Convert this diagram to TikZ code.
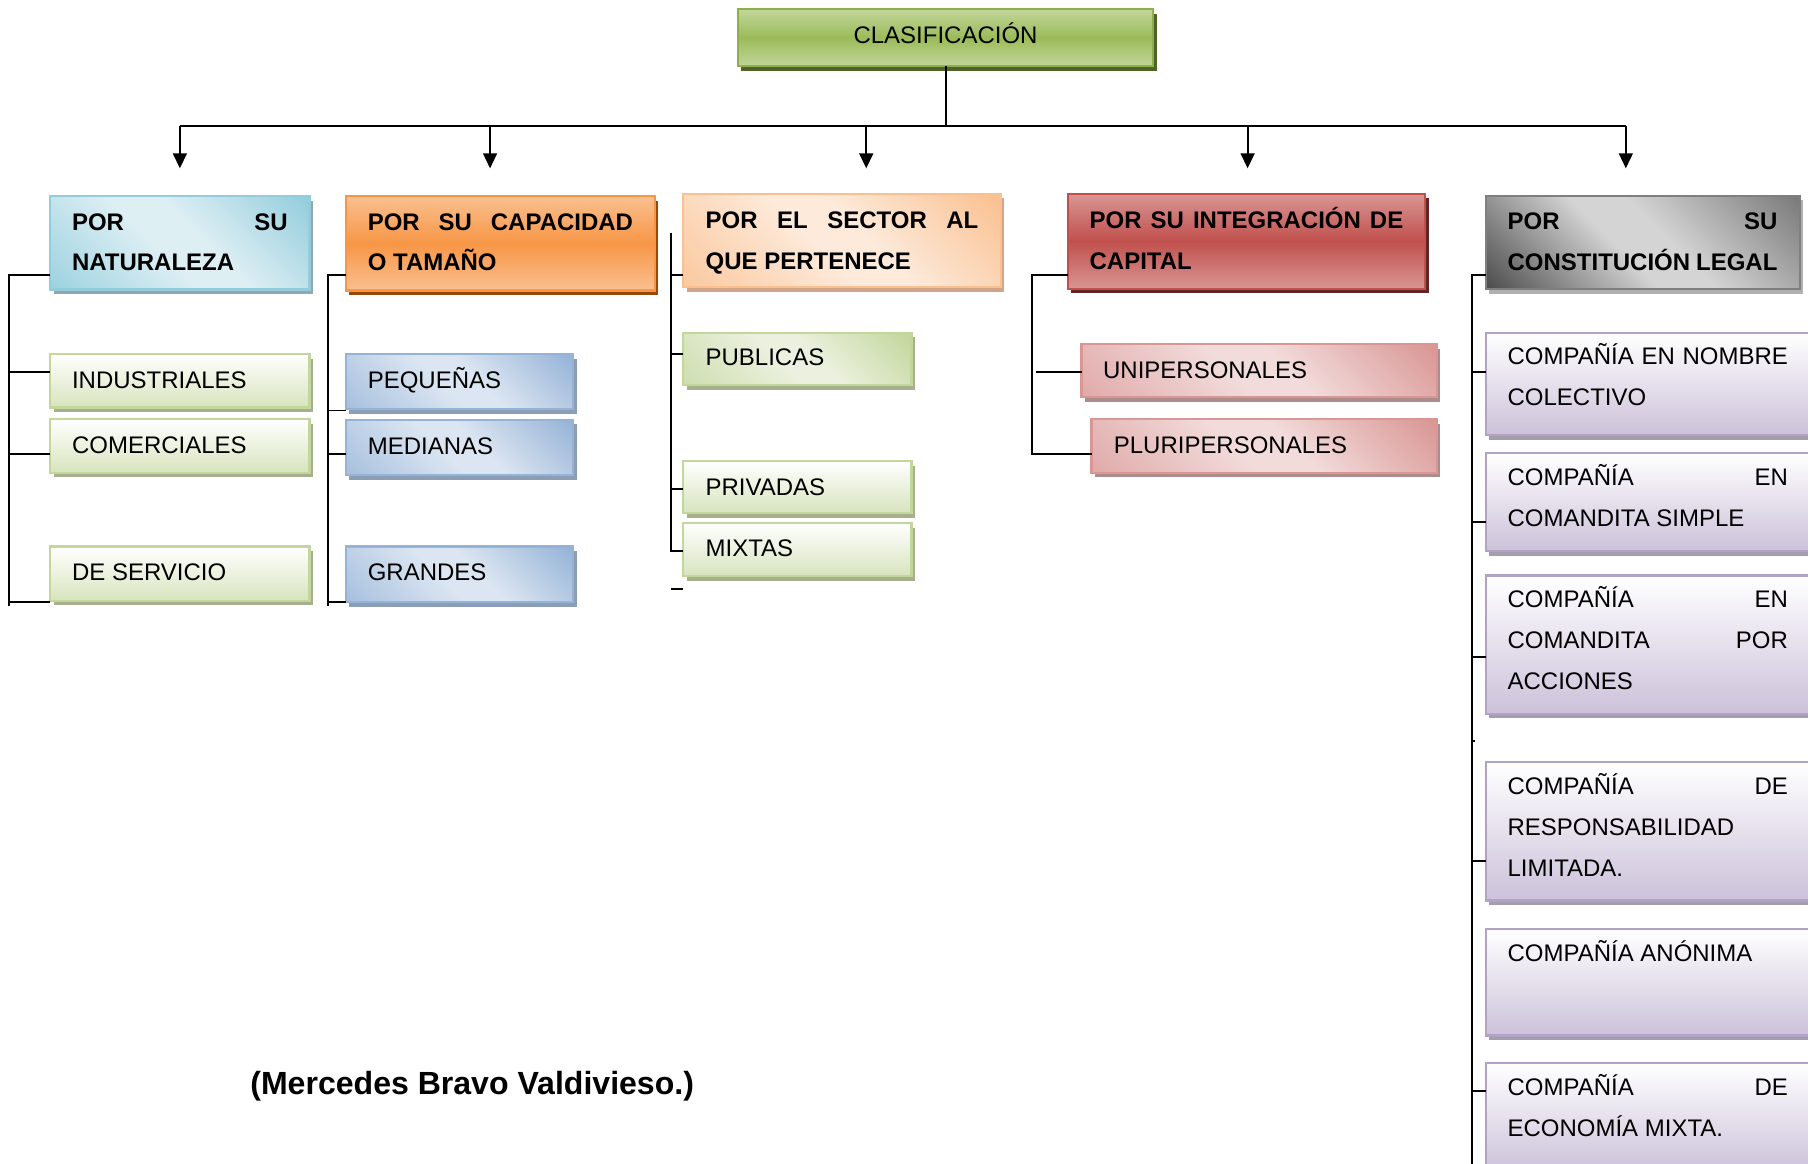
\documentclass[tikz,border=0pt]{standalone}
\usepackage{fontspec}
\setmainfont{Liberation Sans}
\usetikzlibrary{arrows.meta,shadows}
\definecolor{tgL}{HTML}{C3D69B}
\definecolor{tgM}{HTML}{9BBB59}
\definecolor{tgB}{HTML}{8DB04C}
\definecolor{tgS}{HTML}{4F6228}
\definecolor{blD}{HTML}{93CDDD}
\definecolor{blL}{HTML}{DEEFF4}
\definecolor{blM}{HTML}{9DD2E0}
\definecolor{blS}{HTML}{8FA8AF}
\definecolor{orL}{HTML}{FAC090}
\definecolor{orM}{HTML}{F79646}
\definecolor{orS}{HTML}{984807}
\definecolor{peD}{HTML}{FAC090}
\definecolor{peL}{HTML}{FDEADA}
\definecolor{peM}{HTML}{FBC9A0}
\definecolor{peS}{HTML}{D2A588}
\definecolor{reL}{HTML}{D99694}
\definecolor{reM}{HTML}{C0504D}
\definecolor{reS}{HTML}{632523}
\definecolor{grD}{HTML}{7A7A7A}
\definecolor{grL}{HTML}{D4D4D4}
\definecolor{grM}{HTML}{4D4D4D}
\definecolor{grB}{HTML}{7F7F7F}
\definecolor{grS}{HTML}{B0B0B0}
\definecolor{lgD}{HTML}{D7E4BD}
\definecolor{lgB}{HTML}{C3D69B}
\definecolor{lgS}{HTML}{A6B08F}
\definecolor{lgL}{HTML}{EBF1DE}
\definecolor{lgM}{HTML}{CFDEB0}
\definecolor{bbD}{HTML}{95B3D7}
\definecolor{bbL}{HTML}{DCE6F2}
\definecolor{bbM}{HTML}{A7C0DE}
\definecolor{bbS}{HTML}{8C9EB6}
\definecolor{pkD}{HTML}{D99694}
\definecolor{pkL}{HTML}{F2DCDB}
\definecolor{pkM}{HTML}{E0ABAA}
\definecolor{pkS}{HTML}{AE8C8B}
\definecolor{puD}{HTML}{CCC1DA}
\definecolor{puB}{HTML}{B3A2C7}
\definecolor{puS}{HTML}{A39DAC}
\pgfdeclareverticalshading{dNat}{100bp}{color(0bp)=(blD); color(15bp)=(blD); color(45bp)=(blL); color(55bp)=(blL); color(85bp)=(blM); color(100bp)=(blM)}
\pgfdeclareverticalshading{dSec}{100bp}{color(0bp)=(peD); color(15bp)=(peD); color(45bp)=(peL); color(55bp)=(peL); color(85bp)=(peM); color(100bp)=(peM)}
\pgfdeclareverticalshading{dLeg}{100bp}{color(0bp)=(grD); color(15bp)=(grD); color(45bp)=(grL); color(55bp)=(grL); color(85bp)=(grM); color(100bp)=(grM)}
\pgfdeclareverticalshading{dPub}{100bp}{color(0bp)=(lgB); color(15bp)=(lgB); color(45bp)=(lgL); color(55bp)=(lgL); color(85bp)=(lgM); color(100bp)=(lgM)}
\pgfdeclareverticalshading{dBlu}{100bp}{color(0bp)=(bbD); color(15bp)=(bbD); color(45bp)=(bbL); color(55bp)=(bbL); color(85bp)=(bbM); color(100bp)=(bbM)}
\pgfdeclareverticalshading{dPnk}{100bp}{color(0bp)=(pkD); color(15bp)=(pkD); color(45bp)=(pkL); color(55bp)=(pkL); color(85bp)=(pkM); color(100bp)=(pkM)}
\begin{document}
\begin{tikzpicture}[x=1pt,y=-1pt,
  box/.style={rectangle,inner sep=0pt,outer sep=0pt,anchor=north west,line width=2pt},
  shad/.style={drop shadow={fill=#1,opacity=1,shadow xshift=3pt,shadow yshift=-4pt}},
  vgrad/.style n args={3}{top color=#1,bottom color=#1,middle color=#2,draw=#3},
  dshade/.style 2 args={shade,shading=#1,shading angle=135,draw=#2},
  wgrad/.style 2 args={top color=white,bottom color=#1,draw=#2},
  txt/.style={inner sep=0pt,outer sep=0pt,anchor=base west,font=\fontsize{20.8}{35.4}\selectfont},
  htxt/.style={inner sep=0pt,outer sep=0pt,anchor=base west,font=\bfseries\fontsize{20.8}{35.4}\selectfont},
  conn/.style={draw=black,line width=1.7pt},
  arr/.style={conn,-{Triangle[length=13pt,width=12pt]}},
  greenkid/.style={box,wgrad={lgD}{lgB},shad=lgS},
  greendiag/.style={box,dshade={dPub}{lgB},shad=lgS},
  bluekid/.style={box,dshade={dBlu}{bbD},shad=bbS},
  pinkkid/.style={box,dshade={dPnk}{pkD},shad=pkS},
  purplekid/.style={box,wgrad={puD}{puB},shad=puS}
]
\useasboundingbox (0,0) rectangle (1568,1009);

% ---------- top ----------
\node[box,vgrad={tgL}{tgM}{tgB},shad=tgS,minimum width=360pt,minimum height=49.5pt,
      font=\fontsize{20.8}{24}\selectfont,text height=14.9pt,text depth=5.8pt] (title) at (640,8) {CLASIFICACIÓN};

% ---------- level 1 ----------
\node[box,dshade={dNat}{blD},shad=blS,minimum width=225pt,minimum height=81pt] (nat) at (43.5,170) {};
\node[box,vgrad={orL}{orM}{orM},shad=orS,minimum width=268pt,minimum height=82pt] (cap) at (300,170) {};
\node[box,dshade={dSec}{peD},shad=peS,minimum width=275.5pt,minimum height=81pt] (sec) at (592.5,168) {};
\node[box,vgrad={reL}{reM}{reM},shad=reS,minimum width=310pt,minimum height=82.5pt] (intg) at (926,168) {};
\node[box,dshade={dLeg}{grB},shad=grS,minimum width=272.5pt,minimum height=81pt] (leg) at (1288.5,169.7) {};

\node[htxt] (natT) at ([shift={(19pt,-29.5pt)}]nat.north west) {\parbox[t]{187pt}{\makebox[\linewidth][s]{POR SU}\\NATURALEZA}};
\node[htxt] (capT) at ([shift={(19pt,-29.5pt)}]cap.north west) {\parbox[t]{230pt}{\makebox[\linewidth][s]{POR SU CAPACIDAD}\\O TAMAÑO}};
\node[htxt] (secT) at ([shift={(19.5pt,-30pt)}]sec.north west) {\parbox[t]{236.5pt}{\makebox[\linewidth][s]{POR EL SECTOR AL}\\QUE PERTENECE}};
\node[htxt] (intgT) at ([shift={(19pt,-30pt)}]intg.north west) {\parbox[t]{272pt}{\makebox[\linewidth][s]{POR SU INTEGRACIÓN DE}\\CAPITAL}};
\node[htxt] (legT) at ([shift={(19pt,-29.5pt)}]leg.north west) {\parbox[t]{234pt}{\makebox[\linewidth][s]{POR SU}\\CONSTITUCIÓN LEGAL}};

% ---------- children ----------
\node[greenkid,minimum width=225pt,minimum height=46.5pt] (ind) at (43.5,307) {};
\node[greenkid,minimum width=225pt,minimum height=46.5pt] (com) at (43.5,363.6) {};
\node[greenkid,minimum width=225pt,minimum height=47pt] (ser) at (43.5,474) {};
\node[txt] (indT) at ([shift={(19pt,-29.8pt)}]ind.north west) {INDUSTRIALES};
\node[txt] (comT) at ([shift={(19pt,-29.8pt)}]com.north west) {COMERCIALES};
\node[txt] (serT) at ([shift={(19pt,-29.8pt)}]ser.north west) {DE SERVICIO};

\node[bluekid,minimum width=197pt,minimum height=48pt] (peq) at (300,307) {};
\node[bluekid,minimum width=197pt,minimum height=48pt] (med) at (300,364) {};
\node[bluekid,minimum width=197pt,minimum height=48pt] (gra) at (300,474) {};
\node[txt] (peqT) at ([shift={(19pt,-29.8pt)}]peq.north west) {PEQUEÑAS};
\node[txt] (medT) at ([shift={(19pt,-29.8pt)}]med.north west) {MEDIANAS};
\node[txt] (graT) at ([shift={(19pt,-29.8pt)}]gra.north west) {GRANDES};

\node[greendiag,minimum width=198pt,minimum height=45.5pt] (pub) at (592.5,288.5) {};
\node[greenkid,minimum width=198pt,minimum height=45pt] (pri) at (592.5,400) {};
\node[greenkid,minimum width=198pt,minimum height=46pt] (mix) at (592.5,453.7) {};
\node[txt] (pubT) at ([shift={(19.5pt,-28.7pt)}]pub.north west) {PUBLICAS};
\node[txt] (priT) at ([shift={(19.5pt,-29.3pt)}]pri.north west) {PRIVADAS};
\node[txt] (mixT) at ([shift={(19.5pt,-29.3pt)}]mix.north west) {MIXTAS};

\node[pinkkid,minimum width=308pt,minimum height=46pt] (uni) at (938,298.3) {};
\node[pinkkid,minimum width=299.3pt,minimum height=46.4pt] (plu) at (946.7,363.6) {};
\node[txt] (uniT) at ([shift={(18.7pt,-29.8pt)}]uni.north west) {UNIPERSONALES};
\node[txt] (pluT) at ([shift={(19.3pt,-29.8pt)}]plu.north west) {PLURIPERSONALES};

\node[purplekid,minimum width=282pt,minimum height=89pt] (c1) at (1288.5,288.5) {};
\node[purplekid,minimum width=282pt,minimum height=85pt] (c2) at (1288.5,393) {};
\node[purplekid,minimum width=282pt,minimum height=120pt] (c3) at (1288.5,499) {};
\node[purplekid,minimum width=282pt,minimum height=120pt] (c4) at (1288.5,661) {};
\node[purplekid,minimum width=282pt,minimum height=92.5pt] (c5) at (1288.5,805.6) {};
\node[purplekid,minimum width=282pt,minimum height=95pt] (c6) at (1288.5,922) {};
\node[txt] (c1T) at ([shift={(19pt,-28pt)}]c1.north west) {\parbox[t]{243pt}{\makebox[\linewidth][s]{COMPAÑÍA EN NOMBRE}\\COLECTIVO}};
\node[txt] (c2T) at ([shift={(19pt,-28pt)}]c2.north west) {\parbox[t]{243pt}{\makebox[\linewidth][s]{COMPAÑÍA EN}\\COMANDITA SIMPLE}};
\node[txt] (c3T) at ([shift={(19pt,-28pt)}]c3.north west) {\parbox[t]{243pt}{\makebox[\linewidth][s]{COMPAÑÍA EN}\\\makebox[\linewidth][s]{COMANDITA POR}\\ACCIONES}};
\node[txt] (c4T) at ([shift={(19pt,-28pt)}]c4.north west) {\parbox[t]{243pt}{\makebox[\linewidth][s]{COMPAÑÍA DE}\\RESPONSABILIDAD\\LIMITADA.}};
\node[txt] (c5T) at ([shift={(19pt,-28pt)}]c5.north west) {COMPAÑÍA ANÓNIMA};
\node[txt] (c6T) at ([shift={(19pt,-28pt)}]c6.north west) {\parbox[t]{243pt}{\makebox[\linewidth][s]{COMPAÑÍA DE}\\ECONOMÍA MIXTA.}};

% ---------- citation ----------
\node[inner sep=0pt,font=\bfseries\fontsize{27.8}{33}\selectfont] (cite) at (409.5,942) {(Mercedes Bravo Valdivieso.)};

% ---------- top connectors ----------
\coordinate (bar) at (0,109);
\draw[conn] (title.south) -- (title.south |- bar);
\draw[conn] (nat.north |- bar) -- ([xshift=-14.75pt]leg.north |- bar);
\draw[arr] (nat.north |- bar) -- ([yshift=24pt]nat.north);
\draw[arr] ([xshift=-9pt]cap.north |- bar) -- ([xshift=-9pt,yshift=24pt]cap.north);
\draw[arr] ([xshift=21pt]sec.north |- bar) -- ([xshift=21pt,yshift=22pt]sec.north);
\draw[arr] ([xshift=1pt]intg.north |- bar) -- ([xshift=1pt,yshift=22pt]intg.north);
\draw[arr] ([xshift=-14.75pt]leg.north |- bar) -- ([xshift=-14.75pt,yshift=23.7pt]leg.north);

% ---------- column 1 ----------
\coordinate (s1) at (7.5,525.6);
\draw[conn] ([yshift=-28pt]nat.west) -| (s1);
\draw[conn] ([yshift=7.5pt]ind.west) -- ([yshift=7.5pt]ind.west -| s1);
\draw[conn] ([yshift=-6.5pt]com.west) -- ([yshift=-6.5pt]com.west -| s1);
\draw[conn] ([yshift=-0.8pt]ser.south west) -- ([yshift=-0.8pt]ser.south west -| s1);

% ---------- column 2 ----------
\coordinate (s2) at (284.6,525.6);
\draw[conn] ([yshift=-27.5pt]cap.west) -| (s2);
\draw[conn] ([yshift=-1pt]peq.south west) -- ([yshift=-1pt]peq.south west -| s2);
\draw[conn] ([yshift=-5.7pt]med.west) -- ([yshift=-5.7pt]med.west -| s2);
\draw[conn] (gra.south west) -- (gra.south west -| s2);

% ---------- column 3 ----------
\coordinate (s3) at (581.6,202);
\draw[conn] (s3) |- ([yshift=-1.3pt]mix.west);
\draw[conn] ([yshift=-30pt]sec.west) -- ([yshift=-30pt]sec.west -| s3);
\draw[conn] ([yshift=4.25pt]pub.west) -- ([yshift=4.25pt]pub.west -| s3);
\draw[conn] ([yshift=-1.5pt]pri.west) -- ([yshift=-1.5pt]pri.west -| s3);
\draw[conn] ([yshift=-11.5pt]mix.south west) -- ([yshift=-11.5pt]mix.south west -| s3);

% ---------- column 4 ----------
\coordinate (s4) at (895,0);
\draw[conn] ([yshift=-29.5pt]intg.west) -| ([yshift=-6.9pt]plu.west -| s4) -- ([yshift=-6.9pt]plu.west);
\draw[conn] ([yshift=-1.2pt]uni.west) -- ([xshift=3.5pt,yshift=-1.2pt]uni.west -| s4);

% ---------- column 5 ----------
\coordinate (s5) at (1276.6,1015);
\draw[conn] ([yshift=-28.2pt]leg.west) -| (s5);
\draw[conn] ([yshift=10.4pt]c1.west) -- ([yshift=10.4pt]c1.west -| s5);
\draw[conn] ([yshift=-17pt]c2.west) -- ([yshift=-17pt]c2.west -| s5);
\draw[conn] ([yshift=-10.4pt]c3.west) -- ([yshift=-10.4pt]c3.west -| s5);
\draw[conn] ([yshift=-23.6pt]c3.south west -| s5) -- ([xshift=3pt,yshift=-23.6pt]c3.south west -| s5);
\draw[conn] ([yshift=-26pt]c4.west) -- ([yshift=-26pt]c4.west -| s5);
\draw[conn] ([yshift=23.5pt]c6.west) -- ([yshift=23.5pt]c6.west -| s5);
\end{tikzpicture}
\end{document}
